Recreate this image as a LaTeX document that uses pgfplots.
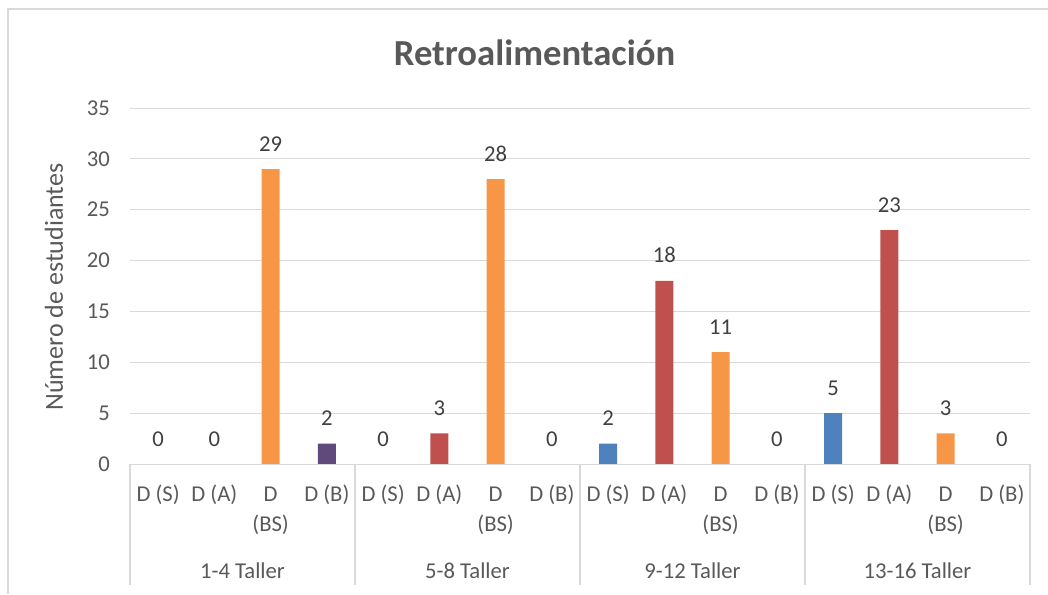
\documentclass[border=0pt]{standalone}
\usepackage{pgfplots}
\pgfplotsset{compat=1.18}
\usepackage{fontspec}
\setmainfont{Carlito}
\definecolor{txt}{HTML}{595959}
\definecolor{lbl}{HTML}{404040}
\definecolor{gridc}{HTML}{D9D9D9}
\definecolor{cS}{HTML}{4F81BD}
\definecolor{cA}{HTML}{C0504D}
\definecolor{cBS}{HTML}{F79646}
\definecolor{cB}{HTML}{604A7B}
\begin{document}
\begin{tikzpicture}
\begin{axis}[
  anchor=south west,
  scale only axis, width=675pt, height=267pt,
  xmin=-0.5, xmax=15.5, ymin=0, ymax=35,
  axis line style={draw=none},
  ymajorgrids, major grid style={draw=gridc, line width=0.75pt},
  ytick={0,5,...,35},
  major tick length=0pt,
  /pgf/number format/assume math mode=true,
  yticklabel style={font=\fontsize{17}{20}\selectfont, text=txt, anchor=east, xshift=-11.6pt},
  xtick={0,...,15},
  xticklabels={D (S),D (A),{D\vphantom{(}\\(BS)},D (B),D (S),D (A),{D\vphantom{(}\\(BS)},D (B),D (S),D (A),{D\vphantom{(}\\(BS)},D (B),D (S),D (A),{D\vphantom{(}\\(BS)},D (B)},
  xticklabel style={font=\fontsize{17}{22.5}\selectfont, text=txt, align=center, anchor=north, yshift=-12pt},
  ybar, bar width=13.5pt, bar shift=0pt,
  nodes near coords,
  every node near coord/.append style={font=\fontsize{17}{20}\selectfont, text=lbl, anchor=base, yshift=13.5pt},
  clip=false,
]
\addplot[fill=cS, draw=none] coordinates {(0,0) (4,0) (8,2) (12,5)};
\addplot[fill=cA, draw=none] coordinates {(1,0) (5,3) (9,18) (13,23)};
\addplot[fill=cBS, draw=none] coordinates {(2,29) (6,28) (10,11) (14,3)};
\addplot[fill=cB, draw=none] coordinates {(3,2) (7,0) (11,0) (15,0)};
\end{axis}
\begin{scope}[x=0.75pt,y=0.75pt,shift={(-97.5pt,-97.5pt)}]
\path[use as bounding box] (0,0) rectangle (1048,594);
\draw[gridc, line width=1.5pt] (8,0) -- (8,585) -- (1048,585);
\node[anchor=base, font=\fontsize{27.5}{33}\selectfont\bfseries, text=txt] at (534.5,529) {Retroalimentación};
\node[anchor=base, rotate=90, font=\fontsize{19.5}{23}\selectfont, text=txt] at (63,307) {Número de estudiantes};
\foreach \xx in {130,355,580,805,1030} {\draw[gridc, line width=1pt] (\xx,130) -- (\xx,9);}
\draw[gridc, line width=0.75pt] (130,130) -- (1030,130);
\foreach \xx/\tt in {242.5/1-4 Taller,467.5/5-8 Taller,692.5/9-12 Taller,917.5/13-16 Taller}
  {\node[anchor=base, font=\fontsize{17}{20}\selectfont, text=txt] at (\xx,16) {\tt};}
\end{scope}
\end{tikzpicture}
\end{document}
